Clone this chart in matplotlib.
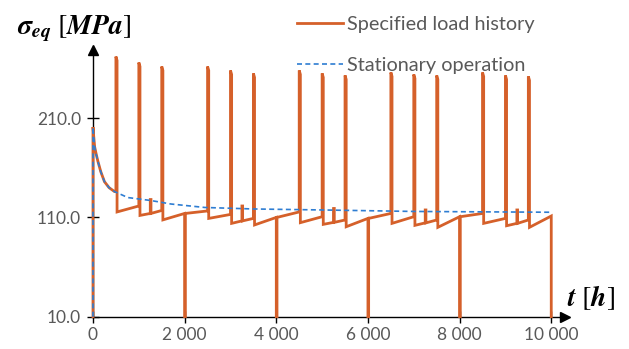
import matplotlib
matplotlib.use("Agg")
import matplotlib.pyplot as plt
from matplotlib.lines import Line2D

plt.rcParams["font.family"] = ["Lato", "DejaVu Sans"]
plt.rcParams["mathtext.fontset"] = "custom"
plt.rcParams["mathtext.rm"] = "STIXGeneral"
plt.rcParams["mathtext.it"] = "STIXGeneral:italic"
plt.rcParams["mathtext.bf"] = "STIXGeneral:italic:bold"

# Stationary operation (relaxation curve), time [h] and stress [MPa]
stat_t = [0, 0, 15, 36, 73, 110, 170, 250, 350, 470, 760, 1265, 1700, 2440,
          3500, 5000, 7000, 10000]
stat_v = [10, 201, 192, 181, 173, 166, 156, 146, 140, 136, 130, 127, 123.5,
          120, 118.5, 117.5, 116, 115.2]

# Load peaks (start-ups): time, peak stress, stress before and after the peak
peak_t = [500, 1000, 1500, 2500, 3000, 3500, 4500, 5000, 5500,
          6500, 7000, 7500, 8500, 9000, 9500]
peak_v = [272, 266, 262, 262, 258, 255, 258, 255, 253,
          256, 254, 253, 256, 253, 252]
before_v = [136, 121.5, 117, 116.5, 113, 109, 115.5, 110.7, 107.4,
            114, 110.7, 107.4, 114, 109, 107.4]
after_v = [115.5, 112, 107.5, 109, 104, 102.4, 104.7, 103, 100.6,
           104, 102, 100, 104, 101.6, 100]

# Minor load bumps
bump_t = [1250, 3250, 5250, 7250, 9250]
bump_v = [128, 121.5, 119, 117.5, 117.5]
bump_base = [114, 106.5, 105, 104.5, 104]

# Shut-downs to the minimum stress
stop_t = [2000, 4000, 6000, 8000, 10000]
stop_v = [114, 110, 109, 110.7, 111.4]
stop_min = 10

# Assemble the load history path
events = []
for t, p, b, a in zip(peak_t, peak_v, before_v, after_v):
    events.append((t, [(t, b), (t, p), (t + 25, p - 4), (t + 25, a)]))
for t, p, b in zip(bump_t, bump_v, bump_base):
    events.append((t, [(t, b), (t, p), (t + 15, p), (t + 15, b)]))
for t, v in zip(stop_t, stop_v):
    seg = [(t, v), (t, stop_min)]
    if t < stop_t[-1]:
        seg += [(t + 15, stop_min), (t + 15, v)]
    events.append((t, seg))
events.sort(key=lambda e: e[0])

hist = [(t, v) for t, v in zip(stat_t, stat_v) if t < peak_t[0]]
for _, seg in events:
    hist.extend(seg)
hist_t = [p[0] for p in hist]
hist_v = [p[1] for p in hist]

orange = "#D5602A"
blue = "#2E7DD2"
grey = "#595959"

fig = plt.figure(figsize=(6.29, 3.49), dpi=100)
ax = fig.add_axes([93 / 629, 32.3 / 349, 472 / 629, 266.7 / 349])

ax.plot(hist_t, hist_v, color=orange, lw=2.0, solid_joinstyle="miter",
        clip_on=False, zorder=3)
ax.plot(stat_t, stat_v, color=blue, lw=1.2, ls=(0, (3, 2)), clip_on=False,
        zorder=4)

ax.set_xlim(0, 10300)
ax.set_ylim(10, 278.6)

for side in ("top", "right"):
    ax.spines[side].set_visible(False)
for side in ("left", "bottom"):
    ax.spines[side].set_linewidth(1.0)
    ax.spines[side].set_color("black")
    ax.spines[side].set_zorder(2)

# arrow heads on the axes
ax.plot(1, 10, ">", color="black", ms=7, transform=ax.get_yaxis_transform(),
        clip_on=False)
ax.plot(0, 1, "^", color="black", ms=7, transform=ax.get_xaxis_transform(),
        clip_on=False)

xt = [0, 2000, 4000, 6000, 8000, 10000]
xl = ["0", "2 000", "4 000", "6 000", "8 000", "10 000"]
yt = [10, 110, 210]
yl = ["10.0", "110.0", "210.0"]
ax.set_xticks(xt, xl)
ax.set_yticks(yt, yl)
ax.tick_params(direction="inout", length=9, width=1.0, color="black",
               labelcolor=grey, labelsize=12.5)
ax.tick_params(axis="x", pad=3)
ax.tick_params(axis="y", pad=4)

fig.text(17 / 629, 1 - 29 / 349,
         r"$\mathbf{\sigma_{eq}}\ [\mathbf{MPa}]$",
         fontsize=20, ha="left", va="center")
fig.text(567 / 629, 1 - 298 / 349, r"$\mathbf{t}\ [\mathbf{h}]$",
         fontsize=20, ha="left", va="center")

handles = [Line2D([], [], color=orange, lw=2.0),
           Line2D([], [], color=blue, lw=1.2, ls=(0, (3, 2)))]
fig.legend(handles, ["Specified load history", "Stationary operation"],
           loc="upper left", bbox_to_anchor=(289 / 629, 1 - 8 / 349),
           frameon=False, fontsize=14.3, labelcolor=grey, handlelength=2.3,
           handletextpad=0.2, labelspacing=1.2, borderaxespad=0)

fig.savefig("out.png", dpi=100)
